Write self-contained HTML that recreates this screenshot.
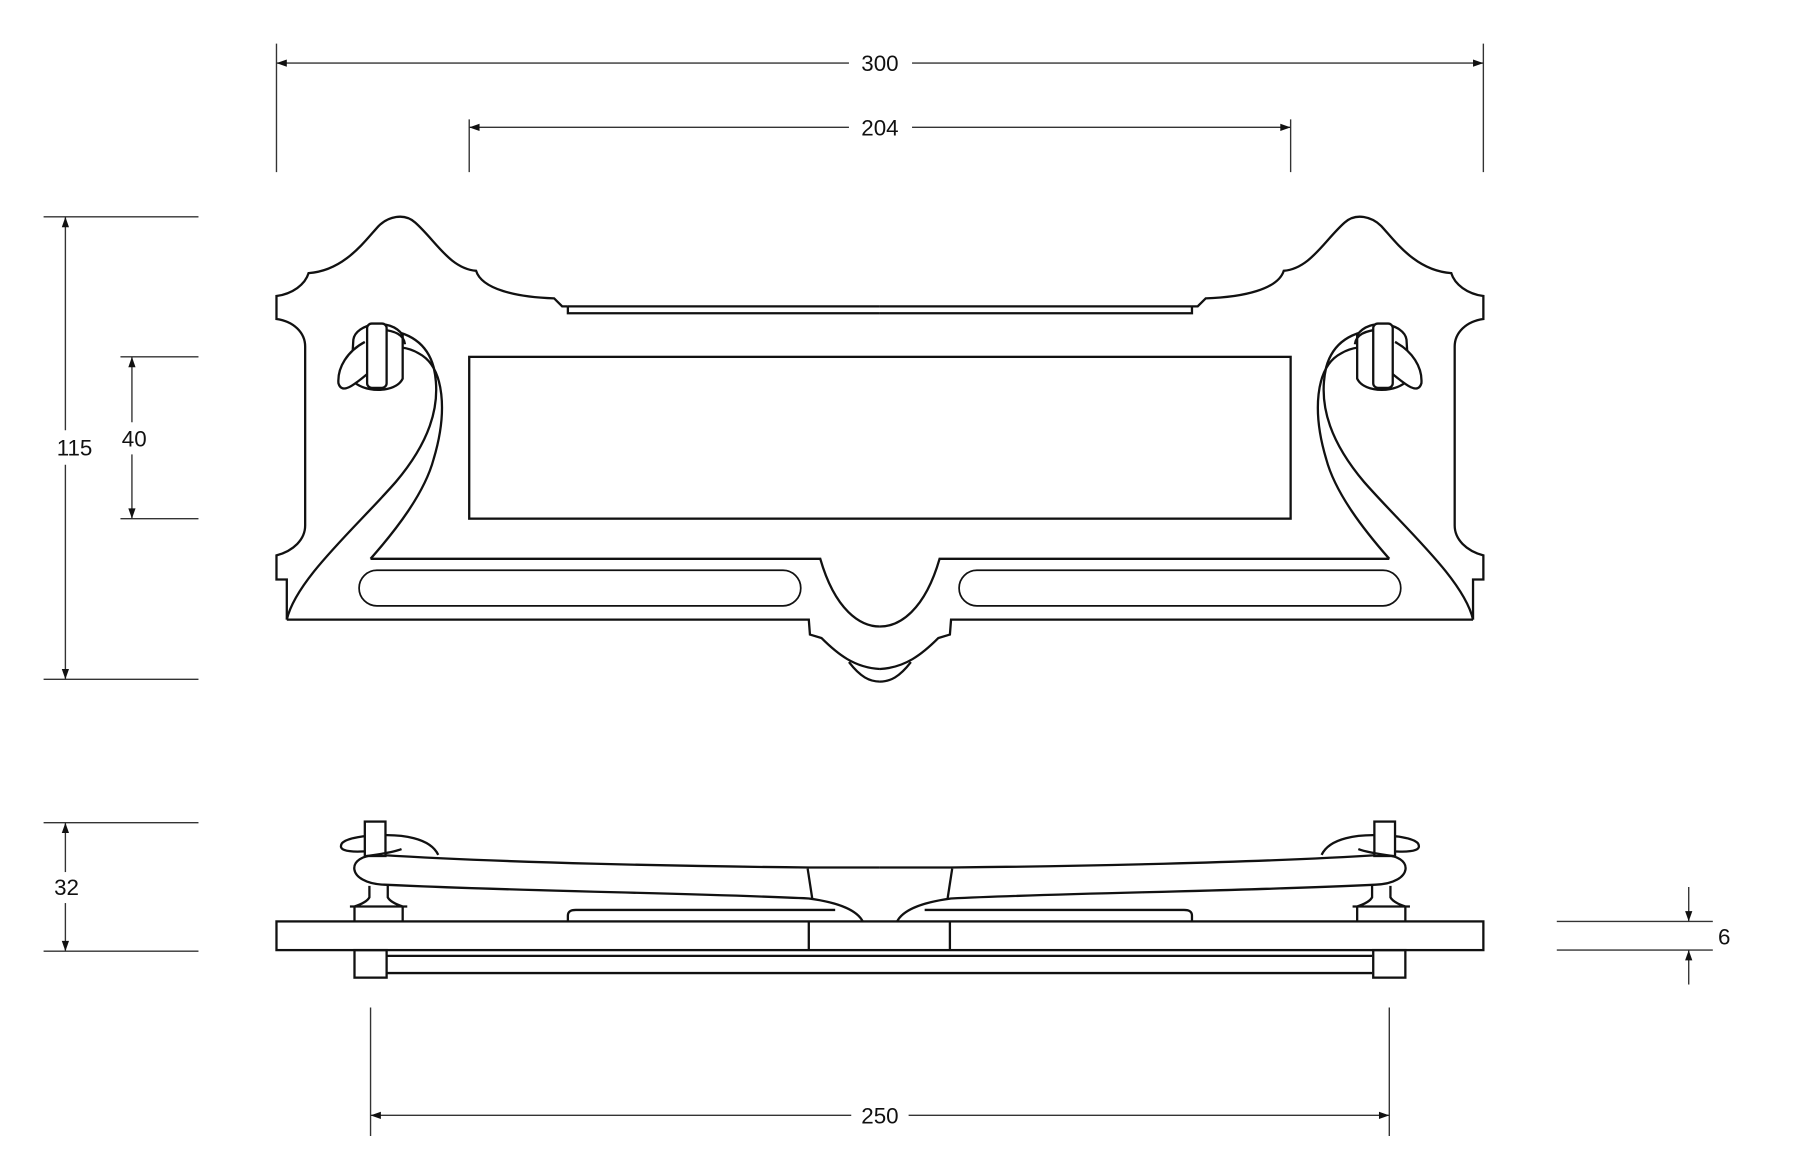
<!DOCTYPE html>
<html><head><meta charset="utf-8"><style>
html,body{margin:0;padding:0;background:#fff;}
svg{display:block;}
text{font-family:"Liberation Sans","DejaVu Sans",sans-serif;font-size:19.5px;fill:#111;}
</style></head><body>
<svg width="1800" height="1175" viewBox="0 0 1569 1024" preserveAspectRatio="none" xmlns="http://www.w3.org/2000/svg">
<defs>
<marker id="a" viewBox="0 0 10 10" refX="10" refY="5" markerWidth="15" markerHeight="9" markerUnits="userSpaceOnUse" orient="auto"><path d="M0,1.5 L10,5 L0,8.5 z" fill="#111"/></marker>
<g id="half" fill="none" stroke="#111" stroke-width="2">
  <path d="M250,540 L250,505 L241,505 L241,484 C256,480 266,470 266,458 L266,302 C266,290 256,280 241,278 L241,258 C255,256 266,248 269,238 C300,236 318,210 330,197 C338,189 352,185 362,194 C380,210 392,234 415,236 C420,252 450,259 483,260 L490,267 L495,267"/>
  <path d="M495,267 L495,273 L767,273"/>
  <path d="M495,267 L767,267" />
  <path d="M250,540 C258,505 310,460 345,420 C372,388 386,355 378,320 C372,298 355,288 330,287"/>
  <path d="M323,487 C345,462 370,430 378,400 C390,360 388,320 365,308 C355,302 345,302 335,303"/>
  <path d="M323,487 L715,487 C728,532 750,546 767,546"/>
  <path d="M250,540 L705,540 L706,553 L716,556 C730,570 745,582 767,583"/>
  <path d="M740,577 C750,590 758,594 767,594"/>
  <rect x="313" y="497" width="385" height="31" rx="15.5" stroke-width="1.5"/>
  <path d="M308,296 C310,282 340,276 351,292 L351,330 C345,343 315,343 306,330 Z" fill="#fff"/>
  <path d="M318,298 C303,306 294,320 295,334 C298,344 308,336 320,326" fill="#fff"/>
  <path d="M330,287 C345,288 352,292 353,300" />
  <rect x="320" y="282" width="17" height="56" rx="4" fill="#fff"/>
  <path d="M767,756 L705,756 C600,755 440,752 330,745 C300,745 302,770 335,771 C460,777 600,778 705,783 C735,787 748,795 752,803"/>
  <path d="M704,757 L708,783"/>
  <path d="M495,803 L495,798 C495,794 498,793 502,793 L728,793"/>
  <path d="M322,772 L322,782 C320,786 312,789 309,790 L309,803 M338,772 L338,782 C340,786 348,789 351,790 L351,803 M305,790 L355,790" />
  <path d="M318,742 C300,743 295,740 298,735 C302,730 320,728 330,728 C350,727 375,730 382,745"/>
  <rect x="318" y="716" width="18" height="30" fill="#fff"/>
  <path d="M320,746 C335,744 345,742 350,740"/>
  <rect x="309" y="828" width="28" height="24" fill="#fff"/>
</g>
</defs>
<use href="#half"/>
<use href="#half" transform="translate(1534,0) scale(-1,1)"/>
<g fill="none" stroke="#111" stroke-width="2">
  <rect x="409" y="311" width="716" height="141"/>
  <rect x="241" y="803" width="1052" height="25"/>
  <path d="M705,803 L705,828 M828,803 L828,828"/>
  <path d="M337,833 L1196,833 M337,848 L1196,848"/>
</g>
<g stroke="#333" stroke-width="1.2" fill="none">
  <path d="M241,38 L241,150 M1293,38 L1293,150 M409,104 L409,150 M1125,104 L1125,150"/>
  <path d="M38,189 L173,189 M38,592 L173,592 M105,311 L173,311 M105,452 L173,452"/>
  <path d="M38,717 L173,717 M38,829 L173,829"/>
  <path d="M1357,803 L1493,803 M1357,828 L1493,828"/>
  <path d="M323,878 L323,990 M1211,878 L1211,990"/>
  <path d="M740,55 L241,55" marker-end="url(#a)"/><path d="M795,55 L1293,55" marker-end="url(#a)"/>
  <path d="M740,111 L409,111" marker-end="url(#a)"/><path d="M795,111 L1125,111" marker-end="url(#a)"/>
  <path d="M57,375 L57,189" marker-end="url(#a)"/><path d="M57,405 L57,592" marker-end="url(#a)"/>
  <path d="M115,368 L115,311" marker-end="url(#a)"/><path d="M115,396 L115,452" marker-end="url(#a)"/>
  <path d="M57,760 L57,717" marker-end="url(#a)"/><path d="M57,787 L57,829" marker-end="url(#a)"/>
  <path d="M1472,773 L1472,803" marker-end="url(#a)"/><path d="M1472,858 L1472,828" marker-end="url(#a)"/>
  <path d="M742,972 L323,972" marker-end="url(#a)"/><path d="M792,972 L1211,972" marker-end="url(#a)"/>
</g>
<g text-anchor="middle">
  <text x="767" y="62">300</text>
  <text x="767" y="118">204</text>
  <text x="65" y="397">115</text>
  <text x="117" y="389">40</text>
  <text x="58" y="780">32</text>
  <text x="1503" y="823">6</text>
  <text x="767" y="979">250</text>
</g>
</svg>
</body></html>
